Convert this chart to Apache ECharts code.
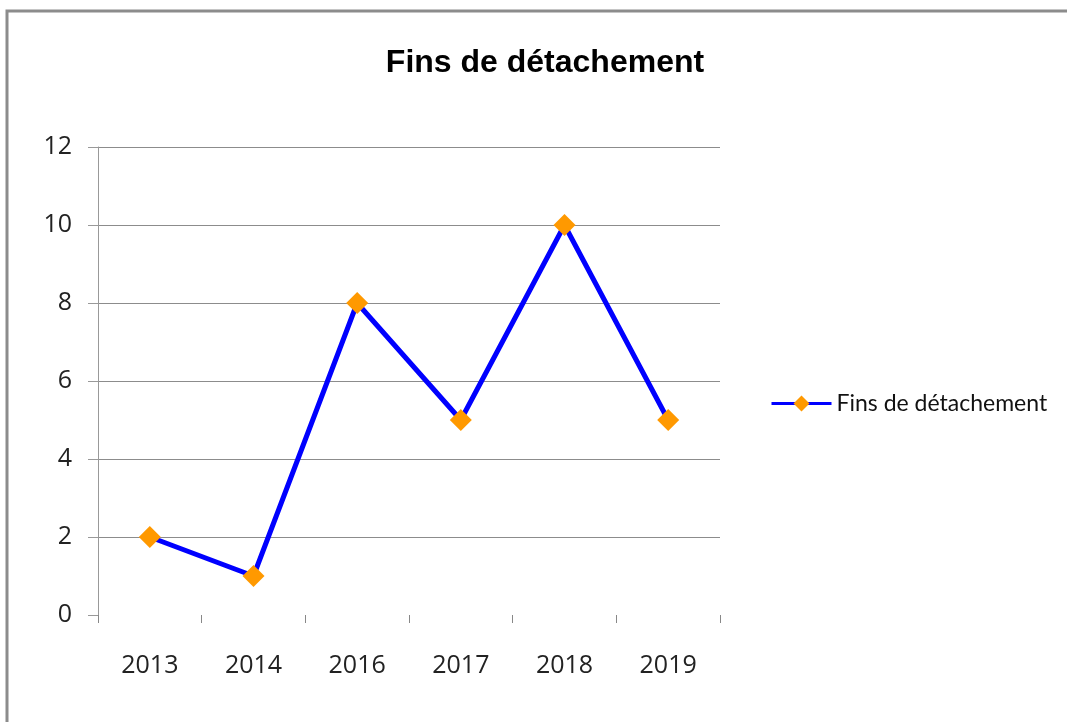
<!DOCTYPE html>
<html>
<head>
<meta charset="utf-8">
<script src="https://cdn.jsdelivr.net/npm/echarts@6/dist/echarts.min.js"></script>
<style>
  html, body { margin: 0; padding: 0; background: #fff; }
  #chart { width: 1067px; height: 722px; }
</style>
</head>
<body>
<div id="chart"></div>
<script>
const title = 'Fins de détachement'
const years = ['2013', '2014', '2016', '2017', '2018', '2019']
const values = [2, 1, 8, 5, 10, 5]

const chart = echarts.init(document.getElementById('chart'))

const option = {
  backgroundColor: '#fff',
  animation: false,
  title: {
    text: title,
    left: 540,
    top: 42,
    textAlign: 'center',
    textStyle: { fontFamily: 'Liberation Sans', fontSize: 32, fontWeight: 'bold', color: '#000' }
  },
  graphic: [{
    type: 'rect',
    shape: { x: 7, y: 11, width: 1200, height: 900 },
    style: { fill: 'none', stroke: '#8c8c8c', lineWidth: 3 },
    silent: true
  }],
  legend: {
    left: 765,
    top: 387,
    itemWidth: 60,
    itemHeight: 20,
    itemGap: 8,
    data: [title],
    lineStyle: { width: 3 },
    textStyle: { fontFamily: 'Lato', fontSize: 23, color: '#111' }
  },
  grid: { left: 98, right: 347, top: 147, bottom: 107 },
  xAxis: {
    type: 'category',
    data: years,
    boundaryGap: true,
    axisLine: { show: false },
    axisTick: { show: true, length: 8, lineStyle: { color: '#888' } },
    axisLabel: { margin: 38, fontFamily: 'Open Sans', fontSize: 25, color: '#222' }
  },
  yAxis: {
    type: 'value',
    min: 0,
    max: 12,
    interval: 2,
    axisLine: { show: true, lineStyle: { color: '#999' } },
    axisTick: { show: true, inside: false, length: 10, lineStyle: { color: '#999' } },
    axisLabel: { margin: 26, fontFamily: 'Open Sans', fontSize: 25, color: '#222' },
    splitLine: { show: true, showMinLine: false, lineStyle: { color: '#8c8c8c', width: 1 } }
  },
  series: [{
    name: title,
    type: 'line',
    data: values,
    symbol: 'diamond',
    symbolSize: 22,
    lineStyle: { color: '#0000ff', width: 5 },
    itemStyle: { color: '#ff9900' }
  }]
}

chart.setOption(option)
</script>
</body>
</html>
